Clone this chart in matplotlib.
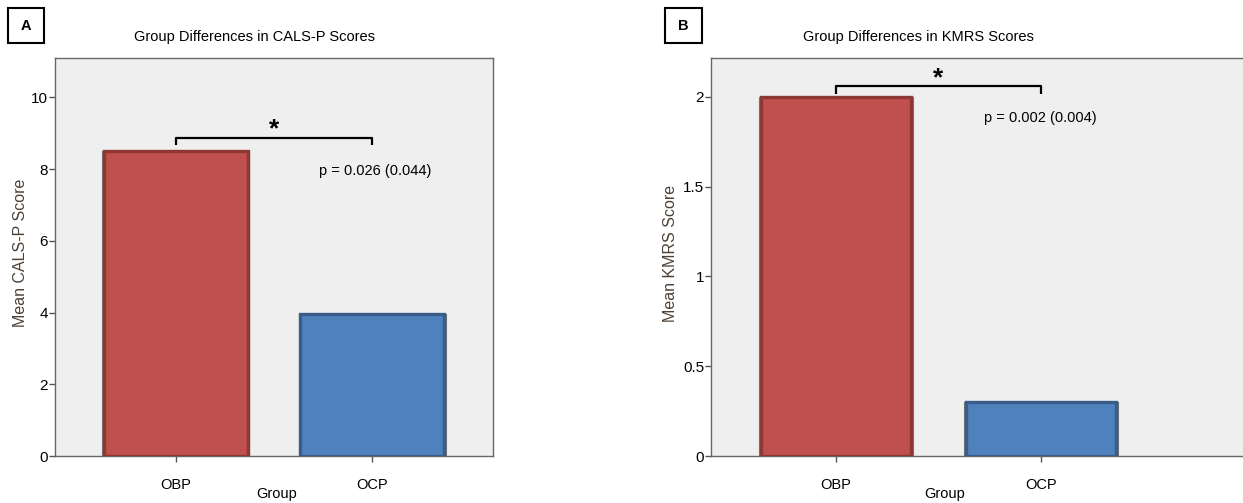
import matplotlib
matplotlib.use("Agg")
import matplotlib.pyplot as plt
from matplotlib.patches import Rectangle

plt.rcParams['font.family'] = ['Liberation Sans', 'DejaVu Sans']

groups = ["OBP", "OCP"]
cals_means = [8.5, 3.95]
kmrs_means = [2.0, 0.3]
cals_yticks = [0, 2, 4, 6, 8, 10]
kmrs_yticks = [0, 0.5, 1, 1.5, 2]
kmrs_yticklabels = ["0", "0.5", "1", "1.5", "2"]
titles = ["Group Differences in CALS-P Scores", "Group Differences in KMRS Scores"]
ylabels = ["Mean CALS-P Score", "Mean KMRS Score"]
ptexts = ["p = 0.026 (0.044)", "p = 0.002 (0.004)"]
panel_letters = ["A", "B"]

fill_colors = ["#C0504D", "#4F81BD"]
edge_colors = ["#8E3835", "#385D8A"]

W, H = 1243, 503
fig = plt.figure(figsize=(W / 100, H / 100), dpi=100)
fig.patch.set_facecolor("white")

def px(x0, y0, x1, y1):
    return [x0 / W, 1 - y1 / H, (x1 - x0) / W, (y1 - y0) / H]

axA = fig.add_axes(px(55, 58, 493, 456))
axB = fig.add_axes(px(711, 58, 1250, 456))

specs = [
    dict(ax=axA, vals=cals_means, ylim=(0, 11.1), xlim=(-0.617, 1.617),
         yticks=cals_yticks, yticklabels=[str(t) for t in cals_yticks],
         br_y=8.86, br_drop=0.2, star=(0.5, 9.1), ptxt=(0.73, 7.95),
         title_x=254, ylab_x=-0.062, xlab_x=0.507, box=(8, 8, 44, 43)),
    dict(ax=axB, vals=kmrs_means, ylim=(0, 2.217), xlim=(-0.61, 2.02),
         yticks=kmrs_yticks, yticklabels=kmrs_yticklabels,
         br_y=2.062, br_drop=0.045, star=(0.5, 2.105), ptxt=(0.72, 1.88),
         title_x=918, ylab_x=-0.061, xlab_x=0.433, box=(665, 8, 702, 43)),
]

for i, s in enumerate(specs):
    ax = s["ax"]
    ax.set_facecolor("#EFEFEF")
    x = list(range(len(groups)))
    ax.bar(x, s["vals"], width=0.75, color=fill_colors, edgecolor="#777777",
           linewidth=0.8, zorder=2)
    ax.bar(x, s["vals"], width=0.75 * 0.975, color=fill_colors, edgecolor=edge_colors,
           linewidth=2.4, zorder=3)
    ax.set_xlim(*s["xlim"])
    ax.set_ylim(*s["ylim"])
    ax.set_xticks(x)
    ax.set_xticklabels(groups, fontsize=10.5)
    ax.set_yticks(s["yticks"])
    ax.set_yticklabels(s["yticklabels"], fontsize=11)
    ax.tick_params(axis="x", length=4, width=1, color="#555555", pad=12, direction="out")
    ax.tick_params(axis="y", length=4, width=1, color="#555555", pad=1, direction="out")
    for sp in ax.spines.values():
        sp.set_color("#666666")
        sp.set_linewidth(1.0)
    if i == 1:
        ax.spines["right"].set_visible(False)
    ax.set_ylabel(ylabels[i], fontsize=11.5, color="#4d4033")
    ax.yaxis.set_label_coords(s["ylab_x"], 0.51)
    ax.set_xlabel("Group", fontsize=10.5)
    ax.xaxis.set_label_coords(s["xlab_x"], -0.077)
    # significance bracket
    by, bd = s["br_y"], s["br_drop"]
    ax.plot([0, 0, 1, 1], [by - bd, by, by, by - bd], color="black", lw=1.6, zorder=4,
            solid_capstyle="butt")
    ax.text(s["star"][0], s["star"][1], "*", fontsize=19, ha="center", va="center",
            fontweight="bold", zorder=4)
    ax.text(s["ptxt"][0], s["ptxt"][1], ptexts[i], fontsize=10.5, ha="left", va="center")
    # title
    fig.text(s["title_x"] / W, 1 - 37 / H, titles[i], fontsize=10.5, ha="center", va="center")
    # panel letter box
    bx0, by0, bx1, by1 = s["box"]
    fig.patches.append(Rectangle((bx0 / W, 1 - by1 / H), (bx1 - bx0) / W, (by1 - by0) / H,
                                 transform=fig.transFigure, fill=False, edgecolor="black",
                                 linewidth=1.5))
    fig.text((bx0 + bx1) / 2 / W, 1 - (by0 + by1) / 2 / H, panel_letters[i], fontsize=10.5,
             fontweight="bold", ha="center", va="center")

fig.savefig("out.png", dpi=100)
